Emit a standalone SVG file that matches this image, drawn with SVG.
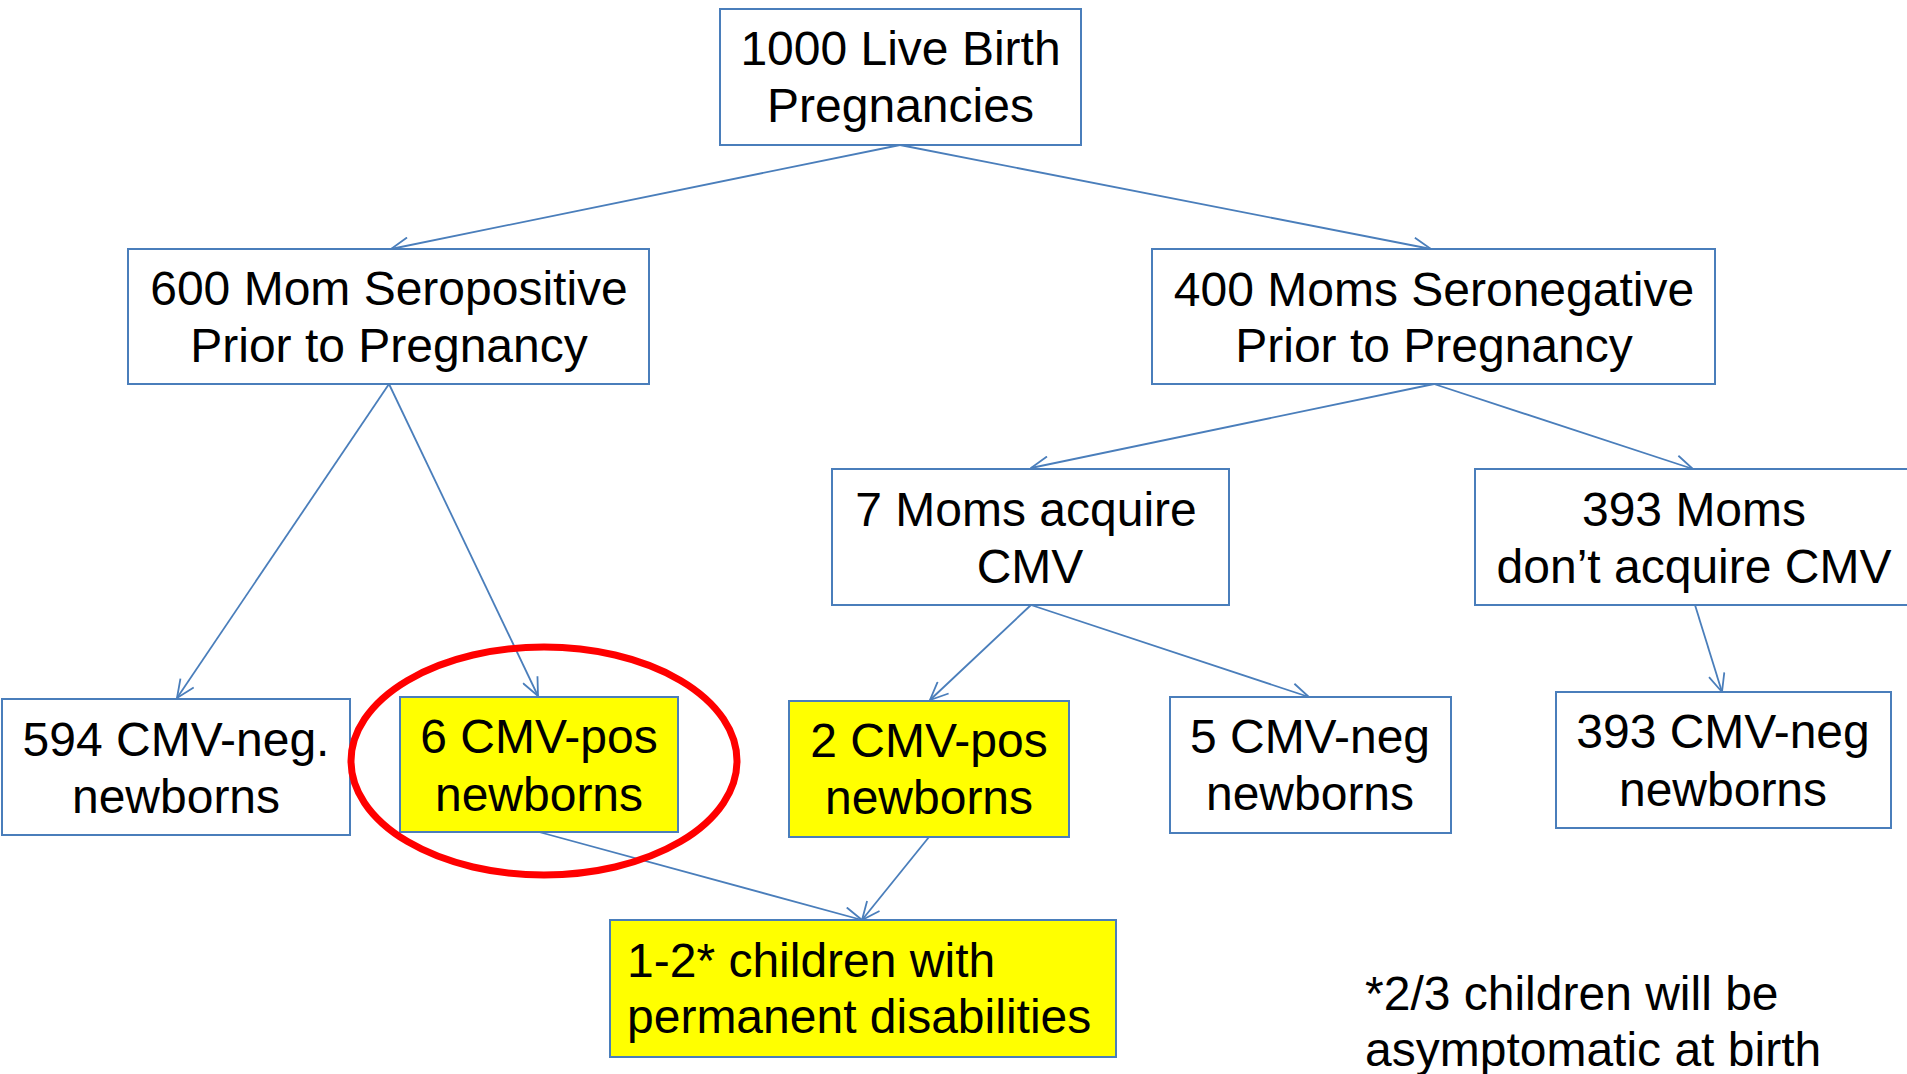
<svg xmlns="http://www.w3.org/2000/svg" width="1907" height="1074" viewBox="0 0 1907 1074">
<style>
.box{fill:#ffffff;stroke:#4a7ebb;stroke-width:2}
.hl{fill:#ffff00;stroke:#4a7ebb;stroke-width:2}
.t{font-family:"Liberation Sans",Arial,sans-serif;font-size:48px;fill:#000000;text-anchor:middle}
.tl{font-family:"Liberation Sans",Arial,sans-serif;font-size:48px;fill:#000000}
.c{stroke:#4a7ebb;stroke-width:1.8;fill:none;marker-end:url(#arr)}
</style>
<defs>
<marker id="arr" markerUnits="userSpaceOnUse" viewBox="0 0 20 18" refX="19" refY="9" markerWidth="20" markerHeight="18" orient="auto">
<path d="M1,1 L19,9 L1,17" fill="none" stroke="#4a7ebb" stroke-width="1.8"/>
</marker>
</defs>
<rect width="1907" height="1074" fill="#ffffff"/>
<g id="connectors">
<line class="c" x1="900" y1="145" x2="391" y2="249"/>
<line class="c" x1="900" y1="145" x2="1431" y2="249"/>
<line class="c" x1="389" y1="384" x2="177" y2="698"/>
<line class="c" x1="389" y1="384" x2="538" y2="696"/>
<line class="c" x1="1434" y1="384" x2="1031" y2="468"/>
<line class="c" x1="1434" y1="384" x2="1693" y2="469"/>
<line class="c" x1="1031" y1="605" x2="930" y2="700"/>
<line class="c" x1="1031" y1="605" x2="1309" y2="697"/>
<line class="c" x1="1695" y1="605" x2="1722" y2="692"/>
<line class="c" x1="539" y1="832" x2="862" y2="920"/>
<line class="c" x1="929" y1="837" x2="862" y2="920"/>
</g>
<g id="n1000">
<rect class="box" x="720" y="9" width="361" height="136"/>
<text class="t" x="900.5" y="65">1000 Live Birth</text>
<text class="t" x="900.5" y="122">Pregnancies</text>
</g>
<g id="n600">
<rect class="box" x="128" y="249" width="521" height="135"/>
<text class="t" x="389" y="305">600 Mom Seropositive</text>
<text class="t" x="389" y="362">Prior to Pregnancy</text>
</g>
<g id="n400">
<rect class="box" x="1152" y="249" width="563" height="135"/>
<text class="t" x="1434" y="306">400 Moms Seronegative</text>
<text class="t" x="1434" y="362">Prior to Pregnancy</text>
</g>
<g id="n7">
<rect class="box" x="832" y="469" width="397" height="136"/>
<text class="t" x="1026" y="526">7 Moms acquire</text>
<text class="t" x="1030" y="583">CMV</text>
</g>
<g id="n393m">
<rect class="box" x="1475" y="469" width="440" height="136"/>
<text class="t" x="1694" y="526">393 Moms</text>
<text class="t" x="1694" y="583">don’t acquire CMV</text>
</g>
<g id="n594">
<rect class="box" x="2" y="699" width="348" height="136"/>
<text class="t" x="176" y="756">594 CMV-neg.</text>
<text class="t" x="176" y="813">newborns</text>
</g>
<g id="n6">
<rect class="hl" x="400" y="697" width="278" height="135"/>
<text class="t" x="539" y="753">6 CMV-pos</text>
<text class="t" x="539" y="811">newborns</text>
</g>
<g id="n2">
<rect class="hl" x="789" y="701" width="280" height="136"/>
<text class="t" x="929" y="757">2 CMV-pos</text>
<text class="t" x="929" y="814">newborns</text>
</g>
<g id="n5">
<rect class="box" x="1170" y="697" width="281" height="136"/>
<text class="t" x="1310" y="753">5 CMV-neg</text>
<text class="t" x="1310" y="810">newborns</text>
</g>
<g id="n393n">
<rect class="box" x="1556" y="692" width="335" height="136"/>
<text class="t" x="1723" y="748">393 CMV-neg</text>
<text class="t" x="1723" y="806">newborns</text>
</g>
<g id="n12">
<rect class="hl" x="610" y="920" width="506" height="137"/>
<text class="tl" x="627" y="977">1-2* children with</text>
<text class="tl" x="627" y="1033">permanent disabilities</text>
</g>
<g id="note">
<text class="tl" x="1365" y="1010">*2/3 children will be</text>
<text class="tl" x="1365" y="1066">asymptomatic at birth</text>
</g>
<g id="highlight">
<ellipse cx="544" cy="761" rx="193" ry="114" fill="none" stroke="#ff0000" stroke-width="7"/>
</g>
</svg>
